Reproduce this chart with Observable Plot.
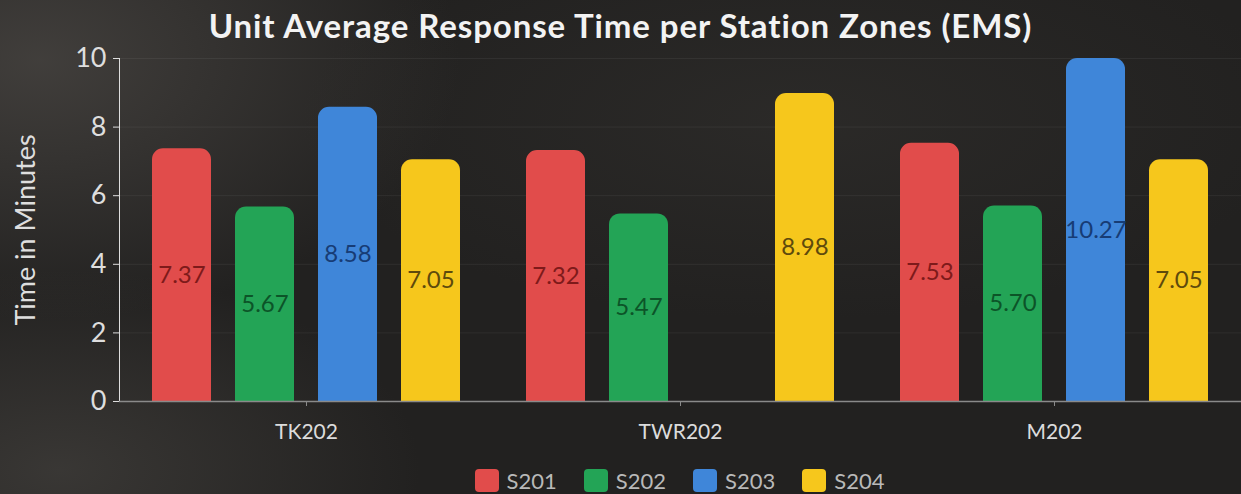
<!DOCTYPE html>
<html>
<head>
<meta charset="utf-8">
<script src="https://cdn.jsdelivr.net/npm/d3@7"></script>
<script src="https://cdn.jsdelivr.net/npm/@observablehq/plot@0.6"></script>
<style>
  html, body { margin: 0; padding: 0; }
  body {
    width: 1241px; height: 494px; overflow: hidden;
    font-family: Lato, "Open Sans", sans-serif;
    background:
      radial-gradient(ellipse 420px 260px at 40px 60px, rgba(90,86,82,0.55), rgba(0,0,0,0) 100%),
      radial-gradient(ellipse 360px 200px at 60px 470px, rgba(80,77,73,0.5), rgba(0,0,0,0) 100%),
      radial-gradient(ellipse 500px 200px at 800px 120px, rgba(60,58,55,0.35), rgba(0,0,0,0) 100%),
      #222120;
  }
  #title {
    height: 40px; line-height: 50px; text-align: center; white-space: nowrap;
    color: #f3f3f3; font-weight: 700; font-size: 33px; letter-spacing: 0.9px;
    overflow: visible;
  }
  #chart svg { display: block; background: transparent; overflow: visible; }
  #chart [aria-label="y-axis label"] text { font-size: 27px; }
  #legend {
    margin-left: 118px; width: 1123px; height: 40px;
    display: flex; justify-content: center; align-items: center;
    gap: 27px; margin-top: 15px;
  }
  .item { display: flex; align-items: center; gap: 8px; color: #b9b9b9; font-size: 22px; }
  .sw { width: 24px; height: 23px; border-radius: 4px; }
</style>
</head>
<body>
<div id="title">Unit Average Response Time per Station Zones (EMS)</div>
<div id="chart"></div>
<div id="legend"></div>
<script>
const groups = ["TK202", "TWR202", "M202"];
const series = ["S201", "S202", "S203", "S204"];
const tk202 = [7.37, 5.67, 8.58, 7.05];
const twr202 = [7.32, 5.47, null, 8.98];
const m202 = [7.53, 5.70, 10.27, 7.05];
const barColors = ["#e14c4b", "#23a456", "#3f86d9", "#f6c71c"];
const labelColors = ["#7e1a1a", "#0c5428", "#173c75", "#5e4a0c"];
const yTicks = [0, 2, 4, 6, 8, 10];
const yMax = 10;

const rows = [tk202, twr202, m202];
const data = groups.flatMap((g, i) =>
  rows[i].map((v, j) => ({group: g, series: series[j], value: v, idx: j}))
).filter(d => d.value != null);

const chart = Plot.plot({
  width: 1241,
  height: 405,
  marginLeft: 118,
  marginRight: 0,
  marginTop: 18,
  marginBottom: 44,
  style: {fontFamily: "Lato, 'Open Sans', sans-serif", fontSize: "27px", color: "#dedede", background: "transparent", overflow: "visible"},
  fx: {domain: groups, padding: 0, label: null},
  x: {domain: series, paddingInner: 0.29, paddingOuter: 0.385, axis: null},
  y: {domain: [0, yMax], ticks: yTicks, line: true, tickSize: 6, tickPadding: 7,
      label: "Time in Minutes", labelAnchor: "center", labelOffset: 104, labelArrow: "none"},
  color: {domain: series, range: barColors},
  marks: [
    Plot.gridY(yTicks.slice(1), {stroke: "#ffffff", strokeOpacity: 0.06}),
    Plot.barY(data, {fx: "group", x: "series", y: d => Math.min(d.value, yMax), fill: "series", ry1: 11}),
    Plot.text(data, {
      fx: "group", x: "series", y: d => Math.min(d.value, yMax) / 2,
      text: d => d.value.toFixed(2), fill: d => labelColors[d.idx], fontSize: 24
    }),
    Plot.ruleY([0], {stroke: "#8a8a8a", strokeWidth: 1.5}),
    Plot.axisFx({anchor: "bottom", tickSize: 5, tickPadding: 18, fontSize: 21, label: null, stroke: "#8a8a8a", fill: "#dcdcdc"})
  ]
});
document.getElementById("chart").appendChild(chart);

const legend = document.getElementById("legend");
series.forEach((s, i) => {
  const it = document.createElement("div");
  it.className = "item";
  const sw = document.createElement("div");
  sw.className = "sw";
  sw.style.background = barColors[i];
  const lb = document.createElement("span");
  lb.textContent = s;
  it.appendChild(sw); it.appendChild(lb);
  legend.appendChild(it);
});
</script>
</body>
</html>
